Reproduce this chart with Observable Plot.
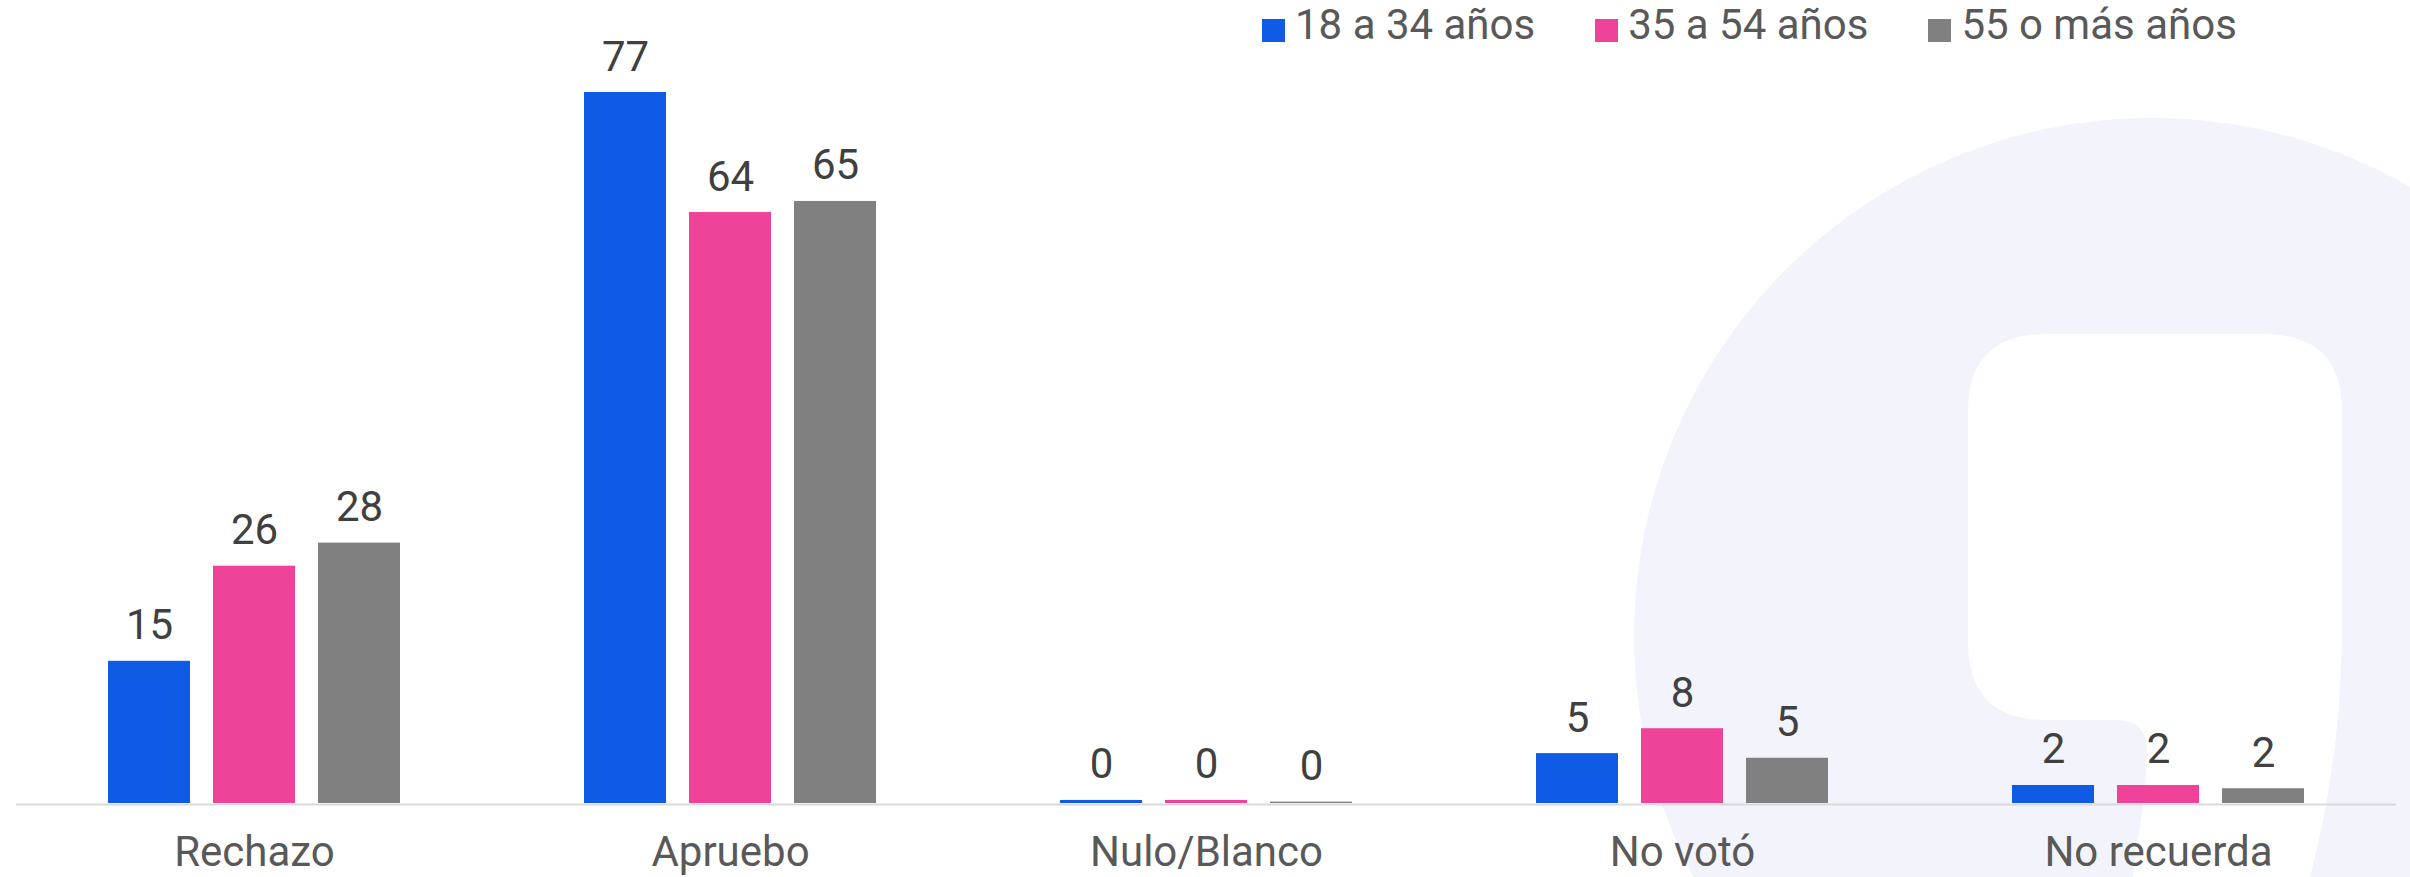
<!DOCTYPE html>
<html>
<head>
<meta charset="utf-8">
<script src="https://cdn.jsdelivr.net/npm/d3@7"></script>
<script src="https://cdn.jsdelivr.net/npm/@observablehq/plot@0.6"></script>
<style>
  html, body { margin: 0; padding: 0; background: #ffffff; }
  #wrap { position: relative; width: 2410px; height: 877px; overflow: hidden; font-family: Roboto, sans-serif; }
  #wm { position: absolute; left: 0; top: 0; }
  #chart { position: absolute; left: 0; top: 0; }
  #legend { position: absolute; left: 1262px; top: 4px; display: flex; gap: 60px; font-size: 42px; line-height: 42px; color: #595959; white-space: nowrap; }
  #legend .item { display: flex; align-items: flex-end; }
  #legend .sw { width: 23px; height: 23px; margin-right: 10px; margin-bottom: 4px; }
</style>
</head>
<body>
<div id="wrap">
  <svg id="wm" width="2410" height="877" viewBox="0 0 2410 877">
    <circle cx="2152" cy="636" r="518" fill="#f2f3fb"></circle>
    <path fill="#ffffff" d="M 2046 334 H 2264 Q 2342 334 2342 412 V 620 C 2342 720 2330 800 2310 877 H 2133 C 2140 820 2147 790 2147 752 Q 2147 720 2117 720 H 2046 Q 1968 720 1968 642 V 412 Q 1968 334 2046 334 Z"></path>
  </svg>
  <div id="chart"></div>
  <div id="legend"></div>
</div>
<script>
const categories = ["Rechazo", "Apruebo", "Nulo/Blanco", "No votó", "No recuerda"];
const series = ["18 a 34 años", "35 a 54 años", "55 o más años"];
const values18a34 = [15.4, 77, 0.33, 5.4, 1.95];
const values35a54 = [25.7, 64, 0.33, 8.1, 1.95];
const values55mas = [28.2, 65.2, 0.15, 4.9, 1.6];
const seriesColors = ["#0f5be6", "#ee4399", "#808080"];

const seriesValues = [values18a34, values35a54, values55mas];
const data = [];
categories.forEach((cat, i) => {
  series.forEach((s, j) => {
    data.push({cat, series: s, value: seriesValues[j][i]});
  });
});

const baseY = 803;
const pxPerUnit = 711 / 77;
const yMax = 80;

const chart = Plot.plot({
  width: 2410,
  height: 877,
  marginLeft: 14,
  marginRight: 13,
  marginTop: baseY - yMax * pxPerUnit,
  marginBottom: 877 - baseY,
  style: {fontFamily: "Roboto, sans-serif", background: "transparent", overflow: "visible"},
  fx: {domain: categories, padding: 0, label: null},
  x: {domain: series, paddingInner: 0.217, paddingOuter: 0.857, axis: null},
  y: {domain: [0, yMax], axis: null},
  color: {domain: series, range: seriesColors},
  marks: [
    Plot.barY(data, {fx: "cat", x: "series", y: "value", fill: "series"}),
    Plot.ruleY([0], {stroke: "#d9d9d9", strokeWidth: 2, dy: 1}),
    Plot.text(data, {
      fx: "cat", x: "series", y: "value",
      text: d => String(Math.round(d.value)),
      dy: -22, lineAnchor: "bottom", fontSize: 42, fill: "#404040"
    }),
    Plot.axisFx({anchor: "bottom", tickSize: 0, tickPadding: 33, fontSize: 42, fill: "#595959", label: null})
  ]
});
document.getElementById("chart").appendChild(chart);

const legend = document.getElementById("legend");
series.forEach((s, i) => {
  const item = document.createElement("div");
  item.className = "item";
  const sw = document.createElement("span");
  sw.className = "sw";
  sw.style.background = seriesColors[i];
  const t = document.createElement("span");
  t.textContent = s;
  item.appendChild(sw);
  item.appendChild(t);
  legend.appendChild(item);
});
</script>
</body>
</html>
